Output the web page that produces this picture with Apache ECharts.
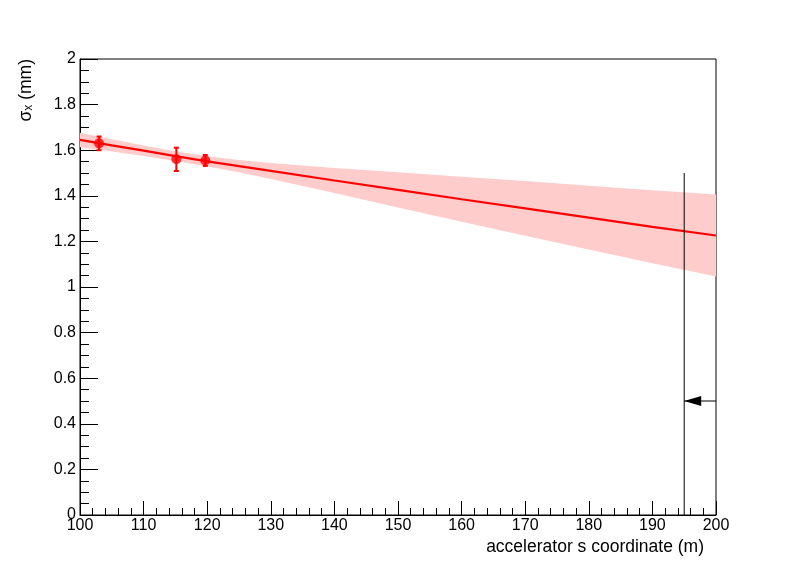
<!DOCTYPE html>
<html>
<head>
<meta charset="utf-8">
<script src="https://cdn.jsdelivr.net/npm/echarts@6/dist/echarts.min.js"></script>
<style>
html,body{margin:0;padding:0;background:#fff;}
#chart{width:796px;height:572px;}
</style>
</head>
<body>
<div id="chart"></div>
<script>
// ---- data ----
var fitX    = [100, 105, 110, 115, 120, 125, 130, 140, 150, 160, 170, 180, 190, 200];
var fitY    = [1.645, 1.621, 1.598, 1.574, 1.551, 1.530, 1.509, 1.467, 1.426, 1.385, 1.345, 1.304, 1.264, 1.226];
var bandHi  = [1.677, 1.648, 1.621, 1.595, 1.573, 1.557, 1.544, 1.522, 1.503, 1.484, 1.465, 1.444, 1.424, 1.406];
var bandLo  = [1.613, 1.594, 1.575, 1.553, 1.529, 1.503, 1.474, 1.412, 1.349, 1.286, 1.225, 1.164, 1.104, 1.046];

var measS   = [103.0, 115.15, 119.7];
var measSig = [1.630, 1.560, 1.555];
var measErr = [0.030, 0.051, 0.024];

var cutS     = 195;     // vertical line position
var cutTop   = 1.5;     // vertical line height
var arrowY   = 0.5;     // arrow level
var arrowEnd = 200;     // arrow tail

var xTitle = 'accelerator s coordinate (m)';

var FONT = 'Liberation Sans, Arial, Helvetica, sans-serif';

var chart = echarts.init(document.getElementById('chart'), null, {renderer: 'canvas'});

var fitData = fitX.map(function (x, i) { return [x, fitY[i]]; });
var measData = measS.map(function (x, i) { return [x, measSig[i], measErr[i]]; });

var option = {
  backgroundColor: '#ffffff',
  animation: false,
  grid: {
    left: 80, right: 80, top: 59, bottom: 57,
    show: true, borderColor: '#000', borderWidth: 1, backgroundColor: 'transparent',
    outerBoundsMode: 'none'
  },
  xAxis: {
    type: 'value', min: 100, max: 200, interval: 10,
    axisLine: {show: true, onZero: false, lineStyle: {color: '#000', width: 1}},
    axisTick: {show: true, inside: true, length: 14, lineStyle: {color: '#000', width: 1}},
    minorTick: {show: true, splitNumber: 5, length: 7, lineStyle: {color: '#000', width: 1}},
    splitLine: {show: false},
    axisLabel: {color: '#000', fontSize: 16, fontFamily: FONT, margin: 3}
  },
  yAxis: {
    type: 'value', min: 0, max: 2, interval: 0.2,
    axisLine: {show: true, onZero: false, lineStyle: {color: '#000', width: 1}},
    axisTick: {show: true, inside: true, length: 18, lineStyle: {color: '#000', width: 1}},
    minorTick: {show: true, splitNumber: 4, length: 9, lineStyle: {color: '#000', width: 1}},
    splitLine: {show: false},
    axisLabel: {color: '#000', fontSize: 16, fontFamily: FONT, margin: 4}
  },
  graphic: [
    {
      type: 'text', x: 35, y: 59, rotation: Math.PI / 2,
      style: {
        text: '{a|σ}{b|x}{a| (mm)}',
        textAlign: 'right', textVerticalAlign: 'bottom',
        fill: '#000',
        rich: {
          a: {fontSize: 17.5, fontFamily: FONT, fill: '#000', lineHeight: 18},
          b: {fontSize: 12, fontFamily: FONT, fill: '#000', verticalAlign: 'bottom', lineHeight: 12}
        }
      }
    },
    {
      type: 'text', x: 704, y: 547,
      style: {text: xTitle, fontSize: 17.5, fontFamily: FONT, fill: '#000', textAlign: 'right', textVerticalAlign: 'middle'}
    }
  ],
  series: [
    {
      // confidence band
      type: 'custom', z: 1, silent: true,
      data: [0],
      renderItem: function (params, api) {
        var pts = [];
        for (var i = 0; i < fitX.length; i++) pts.push(api.coord([fitX[i], bandHi[i]]));
        for (var j = fitX.length - 1; j >= 0; j--) pts.push(api.coord([fitX[j], bandLo[j]]));
        return {type: 'polygon', shape: {points: pts}, style: {fill: 'rgb(255,204,204)', stroke: null}};
      }
    },
    {
      type: 'line', z: 2, data: fitData, symbol: 'none', silent: true,
      lineStyle: {color: '#ff0000', width: 2.2}
    },
    {
      // error bars
      type: 'custom', z: 3, silent: true,
      data: measData,
      renderItem: function (params, api) {
        var x = api.value(0), y = api.value(1), e = api.value(2);
        var top = api.coord([x, y + e]);
        var bot = api.coord([x, y - e]);
        var c = 2.5;
        var ls = {stroke: '#ff0000', lineWidth: 2};
        return {
          type: 'group',
          children: [
            {type: 'line', shape: {x1: top[0], y1: top[1], x2: bot[0], y2: bot[1]}, style: ls},
            {type: 'line', shape: {x1: top[0] - c, y1: top[1], x2: top[0] + c, y2: top[1]}, style: ls},
            {type: 'line', shape: {x1: bot[0] - c, y1: bot[1], x2: bot[0] + c, y2: bot[1]}, style: ls}
          ]
        };
      }
    },
    {
      type: 'scatter', z: 4, silent: true,
      data: measData, symbol: 'circle', symbolSize: 10,
      itemStyle: {color: '#ff0000'}
    },
    {
      type: 'line', z: 5, silent: true, symbol: 'none',
      data: [[cutS, 0], [cutS, cutTop]],
      lineStyle: {color: '#000', width: 1}
    },
    {
      // arrow
      type: 'custom', z: 6, silent: true,
      data: [[cutS, arrowY, arrowEnd]],
      renderItem: function (params, api) {
        var tip = api.coord([api.value(0), api.value(1)]);
        var tail = api.coord([api.value(2), api.value(1)]);
        return {
          type: 'group',
          children: [
            {type: 'line', shape: {x1: tip[0], y1: tip[1], x2: tail[0], y2: tail[1]}, style: {stroke: '#000', lineWidth: 1}},
            {type: 'polygon', shape: {points: [[tip[0], tip[1]], [tip[0] + 17, tip[1] - 5], [tip[0] + 17, tip[1] + 5]]}, style: {fill: '#000'}}
          ]
        };
      }
    }
  ]
};

chart.setOption(option);
</script>
</body>
</html>
